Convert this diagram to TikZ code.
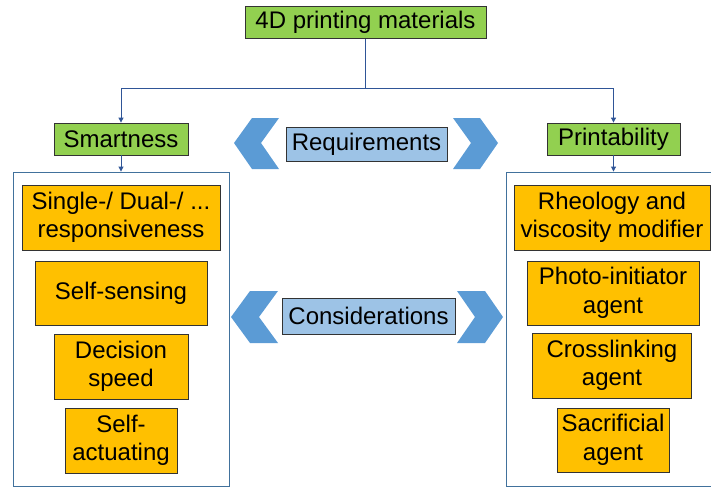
\documentclass[tikz,border=0pt]{standalone}
\usepackage{fontspec}
\setmainfont{Liberation Sans}
\usetikzlibrary{arrows.meta}
\definecolor{leafgreen}{HTML}{92D050}
\definecolor{amber}{HTML}{FFC000}
\definecolor{skyblue}{HTML}{9DC3E6}
\definecolor{chevblue}{HTML}{5B9BD5}
\definecolor{frameblue}{HTML}{41719C}
\definecolor{linkblue}{HTML}{2F5597}
\begin{document}
\begin{tikzpicture}[x=1pt, y=-1pt,
  box/.style={draw=black!80, line width=0.8pt, inner sep=0pt, align=center,
    font=\fontsize{24}{28.5}\selectfont},
  head/.style={box, fill=leafgreen},
  item/.style={box, fill=amber},
  tag/.style={box, fill=skyblue},
  frame/.style={draw=frameblue, line width=0.9pt, inner sep=0pt},
  link/.style={draw=linkblue, line width=0.9pt, -{Triangle[length=5pt, width=5pt]}}]
    \useasboundingbox (0, 0) rectangle (711, 487);
    \node[head, minimum width=241, minimum height=32] (top) at (365.5, 22.5) {4D printing materials};
    \node[head, minimum width=134, minimum height=32] (smart) at (121, 139) {Smartness};
    \node[head, minimum width=133, minimum height=32] (print) at (613.5, 139) {Printability};
    \coordinate (split) at (365.5, 88);
    \draw[link] (top.south) -- (split) -| (smart.north);
    \draw[link] (split) -| (print.north);
    \node[frame, minimum width=216, minimum height=314] (lcont) at (121, 329) {};
    \node[frame, minimum width=206, minimum height=314] (rcont) at (609, 329) {};
    \draw[link] (smart.south) -- (lcont.north -| smart.south);
    \draw[link] (print.south) -- (rcont.north -| print.south);
    \node[item, minimum width=198, minimum height=65] (single) at (121, 217.5) {Single-/ Dual-/ ...\\responsiveness};
    \node[item, minimum width=172, minimum height=64] (sensing) at (121, 293) {Self-sensing};
    \node[item, minimum width=134, minimum height=65] (decision) at (121, 366.5) {Decision\\speed};
    \node[item, minimum width=112, minimum height=65] (actuating) at (121, 440.5) {Self-\\actuating};
    \node[item, minimum width=196, minimum height=65] (rheology) at (612, 217.5) {Rheology and\\viscosity modifier};
    \node[item, minimum width=172, minimum height=64] (photo) at (613, 293) {Photo-initiator\\agent};
    \node[item, minimum width=159, minimum height=65] (crosslink) at (612, 365.5) {Crosslinking\\agent};
    \node[item, minimum width=112, minimum height=64] (sacrificial) at (613, 440) {Sacrificial\\agent};
    \node[tag, minimum width=161, minimum height=34] (req) at (366.5, 144) {Requirements};
    \node[tag, minimum width=173, minimum height=36] (cons) at (368.5, 316) {Considerations};
    \fill[chevblue] (234, 143) -- (252, 118) -- (279, 118) -- (261, 143) -- (279, 169) -- (252, 169) -- cycle;
    \fill[chevblue] (453, 118) -- (480, 118) -- (498, 143) -- (480, 169) -- (453, 169) -- (471, 143) -- cycle;
    \fill[chevblue] (231, 317) -- (250, 291) -- (278, 291) -- (259, 317) -- (278, 343) -- (250, 343) -- cycle;
    \fill[chevblue] (457, 291) -- (485, 291) -- (503, 317) -- (485, 343) -- (457, 343) -- (475, 317) -- cycle;
\end{tikzpicture}
\end{document}
